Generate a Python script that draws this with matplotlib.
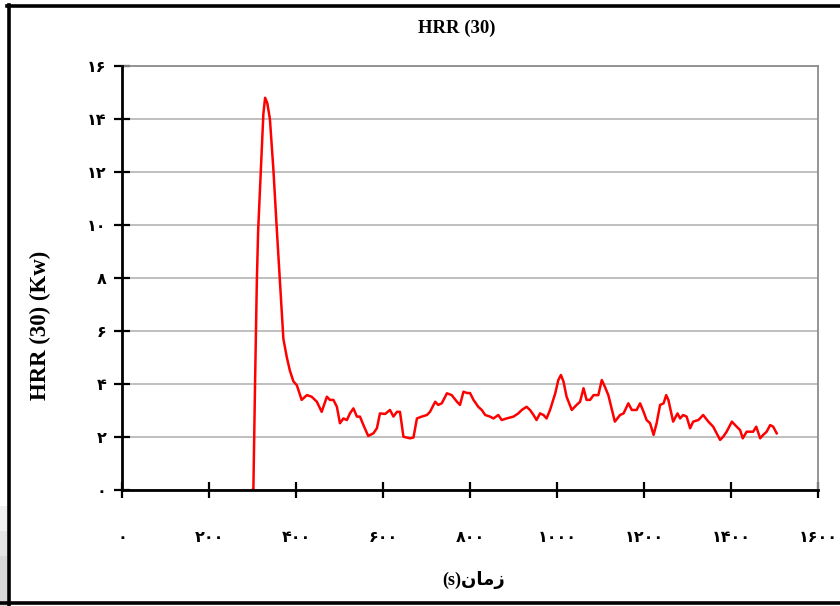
import matplotlib
matplotlib.use('Agg')
import matplotlib.pyplot as plt
from matplotlib.ticker import FuncFormatter
from matplotlib.lines import Line2D
from matplotlib.patches import Rectangle

# زمان (s) و HRR (kW) خوانده شده از نمودار
time_s = [300, 302, 306, 310, 313, 319, 325, 329, 334, 340, 348, 356, 363, 371, 379, 386,
          394, 402, 413, 425, 436, 448, 459, 471, 478, 486, 494, 501, 509, 517, 524, 532,
          540, 547, 555, 566, 578, 586, 593, 605, 616, 624, 632, 639, 647, 662, 670, 678,
          689, 701, 708, 720, 727, 735, 747, 758, 770, 777, 785, 793, 800, 808, 819, 827,
          835, 846, 854, 865, 873, 884, 900, 911, 919, 930, 938, 946, 953, 961, 969, 976,
          984, 996, 1003, 1009, 1015, 1022, 1034, 1045, 1053, 1061, 1068, 1076, 1084, 1095,
          1103, 1110, 1118, 1133, 1145, 1153, 1164, 1172, 1183, 1191, 1199, 1206, 1214, 1222,
          1229, 1237, 1245, 1251, 1256, 1267, 1277, 1283, 1290, 1298, 1306, 1313, 1325, 1336,
          1348, 1359, 1367, 1375, 1382, 1390, 1402, 1413, 1421, 1427, 1436, 1444, 1451, 1458,
          1467, 1474, 1482, 1490, 1497, 1505]
hrr = [0, 0, 4.15, 7.9, 9.8, 12.0, 14.2, 14.8, 14.6, 14.0, 12.1, 9.8, 7.9, 5.7, 5.0, 4.5,
       4.1, 3.95, 3.4, 3.58, 3.52, 3.33, 2.95, 3.52, 3.40, 3.40, 3.14, 2.52, 2.7, 2.64, 2.89, 3.08,
       2.77, 2.77, 2.45, 2.04, 2.14, 2.33, 2.89, 2.87, 3.02, 2.77, 2.95, 2.95, 2.01, 1.95, 1.98, 2.7,
       2.77, 2.83, 2.95, 3.33, 3.21, 3.27, 3.65, 3.58, 3.33, 3.21, 3.71, 3.66, 3.66, 3.40, 3.14, 3.02,
       2.83, 2.77, 2.70, 2.83, 2.64, 2.70, 2.77, 2.89, 3.02, 3.14, 3.02, 2.83, 2.64, 2.89, 2.83, 2.70,
       3.02, 3.65, 4.15, 4.34, 4.09, 3.52, 3.02, 3.21, 3.33, 3.84, 3.40, 3.40, 3.58, 3.58,
       4.15, 3.9, 3.58, 2.58, 2.83, 2.89, 3.27, 3.02, 3.02, 3.27, 2.95, 2.64, 2.52, 2.08,
       2.52, 3.21, 3.27, 3.58, 3.40, 2.58, 2.89, 2.70, 2.83, 2.77, 2.33, 2.58, 2.64, 2.83,
       2.58, 2.39, 2.14, 1.89, 2.01, 2.20, 2.58, 2.39, 2.26, 1.95, 2.20, 2.20, 2.20, 2.39,
       1.95, 2.08, 2.20, 2.45, 2.39, 2.14]

x_ticks = list(range(0, 1601, 200))
y_ticks = list(range(0, 17, 2))

fa_digits = str.maketrans('0123456789', '۰۱۲۳۴۵۶۷۸۹')

def fa(v, pos=None):
    return str(int(round(v))).translate(fa_digits)

fig = plt.figure(figsize=(8.4, 6.06), dpi=100)
ax = fig.add_axes([122 / 840, 116 / 606, 696 / 840, 424 / 606])

ax.plot(time_s, hrr, color='#ff0000', lw=1.8, zorder=3)

ax.set_xlim(0, 1600)
ax.set_ylim(0, 16)
ax.set_xticks(x_ticks)
ax.set_yticks(y_ticks)
ax.xaxis.set_major_formatter(FuncFormatter(fa))
ax.yaxis.set_major_formatter(FuncFormatter(fa))

ax.yaxis.grid(True, color='#b4b4b4', lw=1.2)
ax.set_axisbelow(True)

for s in ['left', 'bottom']:
    ax.spines[s].set_color('black')
    ax.spines[s].set_linewidth(2)
    ax.spines[s].set_zorder(4)
for s in ['top', 'right']:
    ax.spines[s].set_color('#8c8c8c')
    ax.spines[s].set_linewidth(1.3)

ax.tick_params(axis='both', direction='inout', length=12, width=1.6, color='black')
ax.tick_params(axis='x', pad=23)
ax.tick_params(axis='y', pad=5)
for lab in ax.get_xticklabels() + ax.get_yticklabels():
    lab.set_fontfamily('DejaVu Sans')
    lab.set_fontweight('bold')
    lab.set_fontsize(11.5)

fig.text(457 / 840, 1 - 28 / 606, 'HRR (30)', family='Liberation Serif', weight='bold',
         size=13.5, ha='center', va='center')
fig.text(40 / 840, 1 - 325 / 606, 'HRR (30) (Kw)', family='Liberation Serif', weight='bold',
         size=16.5, rotation=90, ha='center', va='center')
# زمان(s) - حروف به شکل نمایشی و ترتیب دیداری
fig.text(474 / 840, 1 - 580 / 606, '(s)\ufee5\ufe8e\ufee3\ufeaf',
         family=['Liberation Serif', 'DejaVu Sans'],
         weight='bold', size=13, ha='center', va='center')

# قاب بیرونی
fig.add_artist(Line2D([8.5 / 840, 8.5 / 840], [0, 1 - 5 / 606], color='black', lw=2.6))
fig.add_artist(Line2D([6.5 / 840, 1], [1 - 6 / 606, 1 - 6 / 606], color='black', lw=2.6))
fig.add_artist(Line2D([0, 1], [3 / 606, 3 / 606], color='black', lw=2.6))
# سایه خاکستری گوشه پایین چپ
for i, c in enumerate(['#f0f0f0', '#e4e4e4', '#d8d8d8']):
    h = (100 - i * 25) / 606
    fig.add_artist(Rectangle((0, 0), 7 / 840, h, transform=fig.transFigure,
                             facecolor=c, edgecolor='none', zorder=0))

fig.savefig('out.png', dpi=100)
